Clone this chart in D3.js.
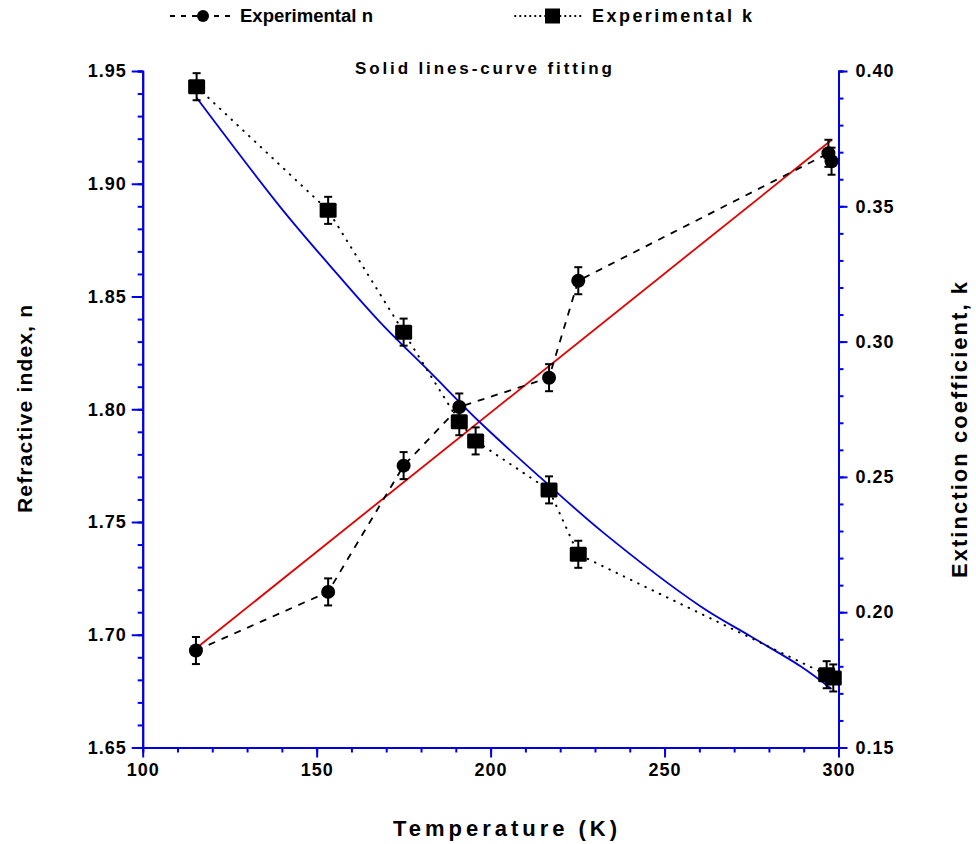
<!DOCTYPE html>
<html>
<head>
<meta charset="utf-8">
<script src="https://cdn.jsdelivr.net/npm/d3@7"></script>
<style>
  html, body { margin: 0; padding: 0; background: #fff; }
  svg text { font-family: "Liberation Sans", Arial, Helvetica, sans-serif; font-weight: bold; fill: #000; }
</style>
</head>
<body>
<svg id="chart" width="976" height="844"></svg>
<script>
// ---- Data ----
const tempN = [115.3, 153.3, 175.0, 191.0, 216.8, 225.2, 297.1, 298.0];
const refractiveN = [1.693, 1.719, 1.775, 1.801, 1.814, 1.857, 1.9135, 1.910];
const errN = [0.006, 0.006, 0.006, 0.006, 0.006, 0.006, 0.006, 0.006];

const tempK = [115.5, 153.3, 175.0, 191.0, 195.7, 216.8, 225.2, 296.6, 298.5];
const extinctionK = [0.3942, 0.3485, 0.3035, 0.2704, 0.2633, 0.2452, 0.2214, 0.1769, 0.1757];
const errK = [0.005, 0.005, 0.005, 0.005, 0.005, 0.005, 0.005, 0.005, 0.005];

// fitted curves (solid lines)
const fitTempN = [116.0, 298.0];
const fitN = [1.6948, 1.9194];
const fitTempK = [115.5, 139.5, 153.8, 168.2, 182.6, 197.0, 214.2, 232.4, 260.3, 274.7, 289.1, 298.0];
const fitK = [0.3901, 0.3498, 0.3281, 0.3072, 0.2887, 0.2701, 0.2499, 0.2294, 0.2022, 0.1911, 0.1800, 0.1716];

const xTicks = [100, 150, 200, 250, 300];
const nTicks = [1.65, 1.70, 1.75, 1.80, 1.85, 1.90, 1.95];
const kTicks = [0.15, 0.20, 0.25, 0.30, 0.35, 0.40];

// ---- Layout ----
const svg = d3.select("#chart");
const L = 142.7, R = 838.5, T = 71, B = 747.5;
const axisColor = "#0000e6";

const x = d3.scaleLinear().domain([100, 300]).range([L, R]);
const yN = d3.scaleLinear().domain([1.65, 1.95]).range([B, T]);
const yK = d3.scaleLinear().domain([0.15, 0.40]).range([B, T]);

function styleAxis(g) {
  g.selectAll("path.domain").attr("stroke", axisColor).attr("stroke-width", 2);
  g.selectAll("line").attr("stroke", axisColor).attr("stroke-width", 2);
  g.selectAll("text").attr("font-size", 18).attr("letter-spacing", 1).style("font-weight", "bold").attr("fill", "#000");
}

// minor ticks
const xMinor = d3.range(100, 301, 10);
const nMinor = d3.range(0, 31).map(i => 1.65 + i * 0.01);
const kMinor = d3.range(0, 26).map(i => 0.15 + i * 0.01);

svg.append("g").attr("transform", `translate(0,${B})`)
  .call(d3.axisBottom(x).tickValues(xMinor).tickSize(5).tickFormat(""))
  .call(styleAxis);
svg.append("g").attr("transform", `translate(${L},0)`)
  .call(d3.axisLeft(yN).tickValues(nMinor).tickSize(5).tickFormat(""))
  .call(styleAxis);
svg.append("g").attr("transform", `translate(${R},0)`)
  .call(d3.axisRight(yK).tickValues(kMinor).tickSize(5).tickFormat(""))
  .call(styleAxis);

svg.append("g").attr("transform", `translate(0,${B})`)
  .call(d3.axisBottom(x).tickValues(xTicks).tickSize(10).tickPadding(6).tickSizeOuter(0).tickFormat(d3.format("d")))
  .call(styleAxis);
svg.append("g").attr("transform", `translate(${L},0)`)
  .call(d3.axisLeft(yN).tickValues(nTicks).tickSize(11).tickPadding(5).tickSizeOuter(0).tickFormat(d3.format(".2f")))
  .call(styleAxis);
svg.append("g").attr("transform", `translate(${R},0)`)
  .call(d3.axisRight(yK).tickValues(kTicks).tickSize(9).tickPadding(8).tickSizeOuter(0).tickFormat(d3.format(".2f")))
  .call(styleAxis);

// ---- Fit lines ----
const fitNData = fitTempN.map((t, i) => [t, fitN[i]]);
const fitKData = fitTempK.map((t, i) => [t, fitK[i]]);
svg.append("path").datum(fitNData)
  .attr("d", d3.line().x(d => x(d[0])).y(d => yN(d[1])))
  .attr("fill", "none").attr("stroke", "#e60000").attr("stroke-width", 1.8);
svg.append("path").datum(fitKData)
  .attr("d", d3.line().x(d => x(d[0])).y(d => yK(d[1])).curve(d3.curveCatmullRom))
  .attr("fill", "none").attr("stroke", "#0000dd").attr("stroke-width", 1.8);

// ---- Experimental lines ----
const nData = tempN.map((t, i) => ({ t, v: refractiveN[i], e: errN[i] }));
const kData = tempK.map((t, i) => ({ t, v: extinctionK[i], e: errK[i] }));

svg.append("path").datum(nData)
  .attr("d", d3.line().x(d => x(d.t)).y(d => yN(d.v)))
  .attr("fill", "none").attr("stroke", "#000").attr("stroke-width", 1.8)
  .attr("stroke-dasharray", "7,7");
svg.append("path").datum(kData)
  .attr("d", d3.line().x(d => x(d.t)).y(d => yK(d.v)))
  .attr("fill", "none").attr("stroke", "#000").attr("stroke-width", 2)
  .attr("stroke-linecap", "round")
  .attr("stroke-dasharray", "0.5,7.5");

// ---- Error bars ----
function errorBars(data, yScale) {
  const g = svg.append("g").attr("stroke", "#000").attr("stroke-width", 2);
  data.forEach(d => {
    const cx = x(d.t), y1 = yScale(d.v + d.e), y2 = yScale(d.v - d.e);
    g.append("line").attr("x1", cx).attr("x2", cx).attr("y1", y1).attr("y2", y2);
    g.append("line").attr("x1", cx - 4).attr("x2", cx + 4).attr("y1", y1).attr("y2", y1);
    g.append("line").attr("x1", cx - 4).attr("x2", cx + 4).attr("y1", y2).attr("y2", y2);
  });
}
errorBars(nData, yN);
errorBars(kData, yK);

// ---- Markers ----
svg.append("g").selectAll("circle").data(nData).join("circle")
  .attr("cx", d => x(d.t)).attr("cy", d => yN(d.v)).attr("r", 7).attr("fill", "#000");
svg.append("g").selectAll("rect").data(kData).join("rect")
  .attr("x", d => x(d.t) - 8.5).attr("y", d => yK(d.v) - 7.5)
  .attr("width", 17).attr("height", 15).attr("rx", 1.5).attr("fill", "#000");

// ---- Titles ----
svg.append("text").attr("x", 355).attr("y", 74)
  .attr("font-size", 17).attr("textLength", 257).attr("lengthAdjust", "spacing")
  .text("Solid lines-curve fitting");

svg.append("text").attr("x", 393).attr("y", 836)
  .attr("font-size", 22).attr("textLength", 224).attr("lengthAdjust", "spacing")
  .text("Temperature (K)");

svg.append("text").attr("transform", "translate(32,513) rotate(-90)")
  .attr("font-size", 21).attr("textLength", 208).attr("lengthAdjust", "spacing")
  .text("Refractive index, n");

svg.append("text").attr("transform", "translate(967,578) rotate(-90)")
  .attr("font-size", 22).attr("textLength", 296).attr("lengthAdjust", "spacing")
  .text("Extinction coefficient, k");

// ---- Legend ----
const legY = 16;
const leg = svg.append("g");
leg.append("line").attr("x1", 170).attr("x2", 236).attr("y1", legY).attr("y2", legY)
  .attr("stroke", "#000").attr("stroke-width", 1.8).attr("stroke-dasharray", "5,6");
leg.append("circle").attr("cx", 203).attr("cy", legY).attr("r", 6).attr("fill", "#000");
leg.append("text").attr("x", 240).attr("y", legY + 6).attr("font-size", 18)
  .attr("textLength", 133).attr("lengthAdjust", "spacingAndGlyphs")
  .text("Experimental n");

leg.append("line").attr("x1", 515).attr("x2", 585).attr("y1", legY).attr("y2", legY)
  .attr("stroke", "#000").attr("stroke-width", 1.8).attr("stroke-linecap", "round").attr("stroke-dasharray", "0.5,4.5");
leg.append("rect").attr("x", 545).attr("y", legY - 7.5).attr("width", 15).attr("height", 15).attr("fill", "#000");
leg.append("text").attr("x", 592).attr("y", legY + 6).attr("font-size", 18)
  .attr("textLength", 160).attr("lengthAdjust", "spacing")
  .text("Experimental k");
</script>
</body>
</html>
